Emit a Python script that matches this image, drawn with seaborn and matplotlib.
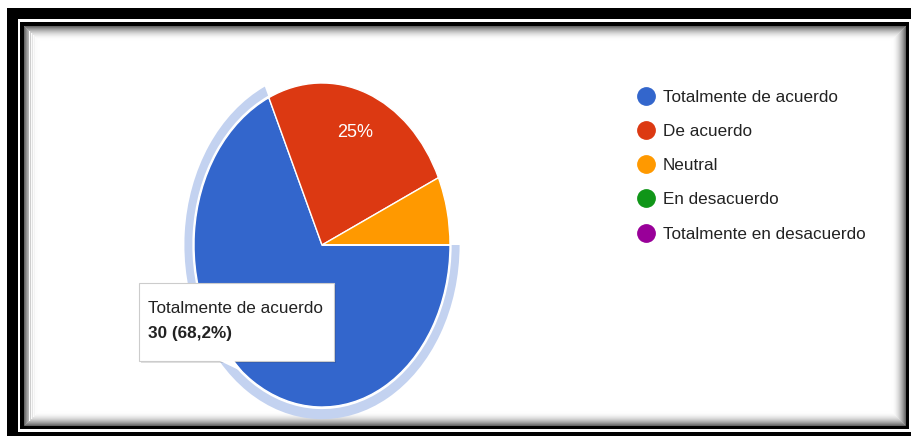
import matplotlib
matplotlib.use("Agg")
import matplotlib.pyplot as plt
import seaborn as sns
from matplotlib.patches import Rectangle, Wedge, Polygon
from matplotlib.lines import Line2D

# Survey answers
categories = ["Totalmente de acuerdo", "De acuerdo", "Neutral",
              "En desacuerdo", "Totalmente en desacuerdo"]
counts = [30, 11, 3, 0, 0]
colors = ["#3366cc", "#dc3912", "#ff9900", "#109618", "#990099"]
highlight_index = 0

sns.set_theme(style="white")
plt.rcParams["font.family"] = ["Liberation Sans", "DejaVu Sans"]

W, H = 912, 436
fig = plt.figure(figsize=(W / 100, H / 100), dpi=100)
fig.patch.set_facecolor("white")


def box(x0, y0, x1, y1, **kw):
    """Rectangle in pixel units measured from the top-left corner."""
    return Rectangle((x0 / W, 1 - y1 / H), (x1 - x0) / W, (y1 - y0) / H,
                     transform=fig.transFigure, **kw)


# Double black frame with an inner shadow
fig.add_artist(box(7, 8, 930, 450, facecolor="black", edgecolor="none", zorder=-10))
fig.add_artist(box(18, 19, 911, 432, facecolor="white", edgecolor="none", zorder=-9))
fig.add_artist(box(20, 22, 909, 429, facecolor="black", edgecolor="none", zorder=-8))
fig.add_artist(box(24, 26, 906, 425, facecolor="white", edgecolor="none", zorder=-7))
steps = 14
for i in range(steps):
    g = 1 - 0.6 * (1 - i / steps) ** 2
    fig.add_artist(box(24 + i + 0.5, 26 + i + 0.5, 906 - i - 0.5, 425 - i - 0.5,
                       fill=False, edgecolor=(g, g, g), linewidth=0.75, zorder=-6))

# Pie axes: elliptical pie centred at (322, 245) px
cx, cy, rx, ry = 322, 245, 128, 162
lim = 1.2
ax = fig.add_axes([(cx - lim * rx) / W, 1 - (cy + lim * ry) / H,
                   2 * lim * rx / W, 2 * lim * ry / H])
ax.patch.set_visible(False)


def pct_label(p):
    if p < 10:
        return ""
    s = f"{p:.1f}".replace(".", ",")
    if s.endswith(",0"):
        s = s[:-2]
    return s + "%"


wedges, _, autotexts = ax.pie(
    counts, colors=colors, startangle=0, counterclock=False,
    autopct=pct_label, pctdistance=0.74,
    wedgeprops=dict(edgecolor="white", linewidth=1.0),
    textprops=dict(color="white", fontsize=13),
)
ax.set_aspect("auto")
ax.set_xlim(-lim, lim)
ax.set_ylim(-lim, lim)
ax.axis("off")

# Hover ring around the selected slice
hw = wedges[highlight_index]
ax.add_patch(Wedge((0, 0), 1.075, hw.theta1, hw.theta2, width=0.062,
                   facecolor="#c3d2f0", edgecolor="none", zorder=0))

# Legend
handles = [Line2D([], [], marker="o", linestyle="none", markersize=12.5,
                  markerfacecolor=c, markeredgecolor=c) for c in colors]
fig.legend(handles, categories, loc="upper left",
           bbox_to_anchor=(637 / W, 1 - 90 / H), frameon=False,
           fontsize=12.3, handlelength=1.0, handletextpad=0.5,
           labelspacing=1.12, borderpad=0, borderaxespad=0,
           labelcolor="#222222")

# Tooltip for the selected slice
total = sum(counts)
share = f"{100 * counts[highlight_index] / total:.1f}".replace(".", ",")
fig.add_artist(box(141, 285, 336, 363, facecolor="#000000", alpha=0.12,
                   edgecolor="none", zorder=4))
fig.add_artist(box(139, 283, 334, 361, facecolor="white", edgecolor="#cccccc",
                   linewidth=0.8, zorder=5))
tail = [(219, 360.5), (234, 360.5), (243, 372)]
fig.add_artist(Polygon([(x / W, 1 - y / H) for x, y in tail], closed=True,
                       transform=fig.transFigure, facecolor="white",
                       edgecolor="none", zorder=6))
fig.text(148 / W, 1 - 313 / H, categories[highlight_index], fontsize=12.3,
         color="#222222", va="baseline", ha="left", zorder=7)
fig.text(148 / W, 1 - 338 / H, f"{counts[highlight_index]} ({share}%)",
         fontsize=12.3, fontweight="bold", color="#222222", va="baseline",
         ha="left", zorder=7)

fig.savefig("out.png", dpi=100)
